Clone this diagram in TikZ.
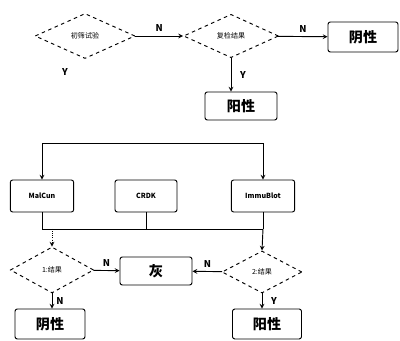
\documentclass[tikz,border=0pt]{standalone}
\usepackage{fontspec}
\setmainfont{Noto Sans CJK SC}
\usetikzlibrary{arrows,shapes.geometric}

\tikzset{
  test/.style={diamond, draw, dashed, thick, inner sep=0pt, aspect=2.2, font=\fontsize{6}{7}\selectfont},
  result/.style={draw, thick, rounded corners=2pt, inner sep=0pt, font=\fontsize{12}{14}\selectfont\bfseries},
  method/.style={draw, thick, rounded corners=2pt, inner sep=0pt, minimum height=0.96cm, font=\fontsize{6}{7}\selectfont\bfseries},
  lab/.style={font=\fontsize{8}{9}\selectfont\bfseries}
}

\begin{document}
\begin{tikzpicture}[>=stealth, thick]
\useasboundingbox (0,0) rectangle (12,-10.23);

\node[test, minimum width=3cm, minimum height=1.35cm] (screen) at (2.55,-1.08) {初筛试验};
\node[test, minimum width=2.85cm, minimum height=1.3cm] (recheck) at (6.93,-1.08) {复检结果};
\node[result, minimum width=2.1cm, minimum height=0.9cm] (neg1) at (10.89,-1.11) {阴性};
\node[result, minimum width=2.16cm, minimum height=0.84cm] (pos1) at (7.23,-3.18) {阳性};

\draw[->] (screen) -- node[lab, above] {N} (recheck);
\draw[->] (recheck) -- node[lab, above] {N} (neg1);
\draw[->] (recheck.south) -- node[lab, right=4pt] {Y} (recheck.south |- pos1.north);
\node[lab] (yes1) at (1.95,-2.16) {Y};

\node[method, minimum width=1.9cm] (m1) at (1.26,-5.88) {MalCun};
\node[method, minimum width=1.86cm] (m2) at (4.38,-5.88) {CRDK};
\node[method, minimum width=1.9cm] (m3) at (7.89,-5.88) {ImmuBlot};

\coordinate (loop) at (2.7,-4.29);
\coordinate (join) at (4.38,-6.87);
\draw[->] (loop) -| (m1.north);
\draw[->] (loop) -| (m3.north);
\draw (m1.south) |- (m3.south |- join);
\draw (m2.south) -- (join);
\draw (m3.south) -- (m3.south |- join);

\node[test, minimum width=2.5cm, minimum height=1.38cm] (left) at (1.56,-8.1) {1:结果};
\node[result, minimum width=2.16cm, minimum height=0.84cm] (grey) at (4.68,-8.13) {灰};
\node[test, minimum width=2.4cm, minimum height=1.26cm] (right) at (7.86,-8.16) {2:结果};
\node[result, minimum width=2.1cm, minimum height=0.9cm] (neg2) at (1.5,-9.72) {阴性};
\node[result, minimum width=2.07cm, minimum height=0.9cm] (pos2) at (8.01,-9.72) {阳性};

\draw[->, densely dotted] (left.north |- join) -- (left.north);
\draw[->] (m3.south |- join) -- (right.north);
\draw[->] (left) -- node[lab, above] {N} (grey);
\draw[->] (right) -- node[lab, above] {N} (grey);
\draw[->] (left.south) -- node[lab, right] {N} (left.south |- neg2.north);
\draw[->] (right.south) -- node[lab, right=4pt] {Y} (right.south |- pos2.north);
\end{tikzpicture}
\end{document}
